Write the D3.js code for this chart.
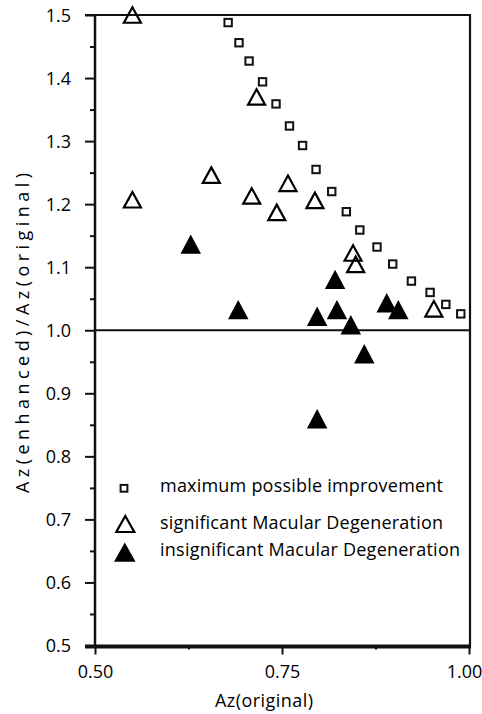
<!DOCTYPE html>
<html>
<head>
<meta charset="utf-8">
<script src="https://cdn.jsdelivr.net/npm/d3@7"></script>
<style>
  html, body { margin: 0; padding: 0; background: #fff; }
  svg { display: block; }
  text { font-family: "Open Sans", "Noto Sans", sans-serif; fill: #000; }
</style>
</head>
<body>
<svg id="chart" width="482" height="714"></svg>
<script>
// Maximum possible improvement: 1/Az(original)
const maxX = [0.678, 0.6925, 0.706, 0.724, 0.742, 0.760, 0.7775, 0.7955, 0.8165, 0.836, 0.854, 0.877, 0.898, 0.923, 0.948, 0.969, 0.989];
const maxY = [1.488, 1.456, 1.427, 1.394, 1.359, 1.324, 1.293, 1.255, 1.220, 1.188, 1.159, 1.132, 1.105, 1.078, 1.060, 1.041, 1.026];

// Cases with significant macular degeneration
const sigX = [0.550, 0.550, 0.6555, 0.716, 0.7095, 0.743, 0.758, 0.794, 0.845, 0.8485, 0.953];
const sigY = [1.500, 1.207, 1.246, 1.370, 1.213, 1.187, 1.233, 1.206, 1.1225, 1.1045, 1.034];

// Cases with insignificant macular degeneration
const insX = [0.628, 0.6915, 0.797, 0.8235, 0.821, 0.842, 0.797, 0.860, 0.890, 0.9055];
const insY = [1.136, 1.032, 1.0215, 1.032, 1.080, 1.008, 0.859, 0.962, 1.043, 1.032];

const xTicks = [0.50, 0.75, 1.00];
const xMinorTicks = [0.625, 0.875];
const yTicks = [0.5, 0.6, 0.7, 0.8, 0.9, 1.0, 1.1, 1.2, 1.3, 1.4, 1.5];
const yMinorTicks = [0.55, 0.65, 0.75, 0.85, 0.95, 1.05, 1.15, 1.25, 1.35, 1.45];

const legendLabels = [
  "maximum possible improvement",
  "significant Macular Degeneration",
  "insignificant Macular Degeneration"
];

const svg = d3.select("#chart");
const plotL = 95, plotR = 469, plotT = 15, plotB = 645.5;
const fs = 18;

const x = d3.scaleLinear().domain([0.5, 1.0]).range([plotL, plotR]);
const y = d3.scaleLinear().domain([0.5, 1.5]).range([plotB, plotT]);

// triangle path centred on its bounding box
const tri = (w, h) => `M0,${-h / 2}L${w / 2},${h / 2}L${-w / 2},${h / 2}Z`;

// axes
const yAxis = d3.axisLeft(y).tickValues(yTicks).tickFormat(d3.format(".1f")).tickSize(10).tickPadding(14);
const yMinor = d3.axisLeft(y).tickValues(yMinorTicks).tickFormat("").tickSize(5);
const xAxis = d3.axisBottom(x).tickValues(xTicks).tickFormat(d3.format(".2f")).tickSize(8).tickPadding(11);
const xMinor = d3.axisBottom(x).tickValues(xMinorTicks).tickFormat("").tickSize(3);

const gy = svg.append("g").attr("transform", `translate(${plotL},0)`).call(yAxis);
svg.append("g").attr("transform", `translate(${plotL},0)`).call(yMinor);
const gx = svg.append("g").attr("transform", `translate(0,${plotB + 1})`).call(xAxis);
svg.append("g").attr("transform", `translate(0,${plotB + 1})`).call(xMinor);

svg.selectAll(".domain").remove();
svg.selectAll(".tick line").attr("stroke", "#111").attr("stroke-width", 2);
svg.selectAll(".tick text").attr("font-size", fs).attr("fill", "#000");
gy.selectAll(".tick text").attr("dy", "0.36em");
// keep the last x label inside the canvas
gx.selectAll(".tick text").filter(d => d === 1.0).attr("dx", -5);

// frame
svg.append("line").attr("x1", plotL).attr("x2", plotL).attr("y1", plotT).attr("y2", plotB + 2)
  .attr("stroke", "#111").attr("stroke-width", 2.5);
svg.append("line").attr("x1", plotL - 10).attr("x2", plotR + 2).attr("y1", plotT).attr("y2", plotT)
  .attr("stroke", "#111").attr("stroke-width", 2.2);
svg.append("line").attr("x1", plotR + 1).attr("x2", plotR + 1).attr("y1", plotT).attr("y2", plotB + 2)
  .attr("stroke", "#111").attr("stroke-width", 2.2);
svg.append("line").attr("x1", plotL - 10).attr("x2", plotR + 2).attr("y1", plotB + 1).attr("y2", plotB + 1)
  .attr("stroke", "#111").attr("stroke-width", 4);

// reference line at ratio 1.0
svg.append("line").attr("x1", plotL).attr("x2", plotR).attr("y1", y(1.0)).attr("y2", y(1.0))
  .attr("stroke", "#111").attr("stroke-width", 2);

// maximum possible improvement
svg.append("g").selectAll("rect").data(d3.zip(maxX, maxY)).join("rect")
  .attr("x", d => x(d[0]) - 3.7).attr("y", d => y(d[1]) - 3.7)
  .attr("width", 7.4).attr("height", 7.4)
  .attr("fill", "#fff").attr("stroke", "#111").attr("stroke-width", 2);

// insignificant (filled triangles)
svg.append("g").selectAll("path").data(d3.zip(insX, insY)).join("path")
  .attr("d", tri(18, 17))
  .attr("transform", d => `translate(${x(d[0])},${y(d[1])})`)
  .attr("fill", "#000").attr("stroke", "#000").attr("stroke-width", 1.5).attr("stroke-linejoin", "miter");

// significant (open triangles)
svg.append("g").selectAll("path").data(d3.zip(sigX, sigY)).join("path")
  .attr("d", tri(17, 15.5))
  .attr("transform", d => `translate(${x(d[0])},${y(d[1])})`)
  .attr("fill", "none").attr("stroke", "#000").attr("stroke-width", 2.2).attr("stroke-linejoin", "miter");

// legend
const lg = svg.append("g");
lg.append("rect").attr("x", 124 - 3.4).attr("y", 488.3 - 3.4).attr("width", 6.8).attr("height", 6.8)
  .attr("fill", "#fff").attr("stroke", "#111").attr("stroke-width", 2);
lg.append("path").attr("d", tri(18, 16)).attr("transform", "translate(125.3,524)")
  .attr("fill", "none").attr("stroke", "#000").attr("stroke-width", 2.2);
lg.append("path").attr("d", tri(19, 17)).attr("transform", "translate(124.8,552.5)")
  .attr("fill", "#000").attr("stroke", "#000").attr("stroke-width", 1.5);

const lgBase = [491.5, 528.5, 556];
const lgLen = [283, 283, 300];
lg.selectAll("text").data(legendLabels).join("text")
  .attr("x", 160).attr("y", (d, i) => lgBase[i])
  .attr("font-size", fs)
  .attr("textLength", (d, i) => lgLen[i]).attr("lengthAdjust", "spacing")
  .text(d => d);

// axis titles
svg.append("text").attr("x", 264).attr("y", 707).attr("text-anchor", "middle")
  .attr("font-size", fs).attr("textLength", 98).attr("lengthAdjust", "spacing")
  .text("Az(original)");
svg.append("text").attr("transform", "translate(29,333) rotate(-90)").attr("text-anchor", "middle")
  .attr("font-size", fs).attr("textLength", 320).attr("lengthAdjust", "spacing")
  .text("Az(enhanced)/Az(original)");
</script>
</body>
</html>
